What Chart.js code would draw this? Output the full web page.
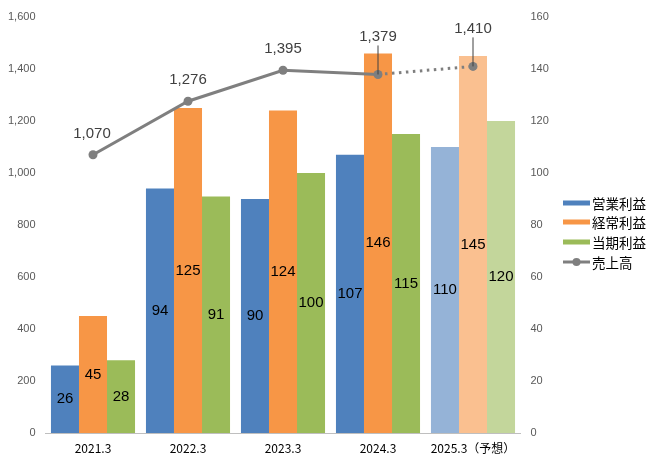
<!DOCTYPE html>
<html><head><meta charset="utf-8">
<script src="https://cdn.jsdelivr.net/npm/chart.js@4/dist/chart.umd.min.js"></script>
<style>html,body{margin:0;padding:0;background:#fff;}#wrap{width:659px;height:467px;}</style>
</head><body><div id="wrap"><canvas id="c" width="659" height="467"></canvas></div>
<script>
const categories = ['2021.3','2022.3','2023.3','2024.3','2025.3（予想）'];
const operatingProfit = [26, 94, 90, 107, 110];
const ordinaryProfit = [45, 125, 124, 146, 145];
const netProfit = [28, 91, 100, 115, 120];
const sales = [1070, 1276, 1395, 1379, 1410];
const seriesNames = ['営業利益','経常利益','当期利益','売上高'];
const leftTicks = [0,200,400,600,800,1000,1200,1400,1600];
const rightTicks = [0,20,40,60,80,100,120,140,160];

const blue = '#4F81BD', blueL = '#95B3D7';
const orange = '#F79646', orangeL = '#FAC090';
const green = '#9BBB59', greenL = '#C3D69B';
const gray = '#7F7F7F';
const fc = (c, l) => categories.map((_, i) => i === categories.length - 1 ? l : c);

const labelPlugin = {
  id: 'labels',
  afterDatasetsDraw(chart) {
    const ctx = chart.ctx;
    ctx.save();
    ctx.textAlign = 'center';
    ctx.textBaseline = 'middle';
    chart.data.datasets.forEach((ds, di) => {
      const meta = chart.getDatasetMeta(di);
      if (ds.type === 'bar') {
        ctx.font = '15px "Liberation Sans", Arial, sans-serif';
        ctx.fillStyle = '#000';
        meta.data.forEach((el, i) => {
          ctx.fillText(String(ds.data[i]), el.x, (el.y + el.base) / 2);
        });
      } else {
        ctx.font = '15px "Liberation Sans", Arial, sans-serif';
        ctx.fillStyle = '#404040';
        meta.data.forEach((el, i) => {
          const txt = ds.data[i].toLocaleString('en-US');
          if (i >= 3) {
            const ly = el.y - 38;
            ctx.fillText(txt, el.x, ly);
            ctx.strokeStyle = '#404040';
            ctx.lineWidth = 1;
            ctx.beginPath();
            ctx.moveTo(el.x, ly + 9);
            ctx.lineTo(el.x, el.y);
            ctx.stroke();
          } else {
            ctx.fillText(txt, el.x - (i === 0 ? 1 : 0), el.y - 21);
          }
        });
      }
    });
    ctx.restore();
  }
};

const legendPlugin = {
  id: 'customLegend',
  afterDraw(chart) {
    const ctx = chart.ctx;
    ctx.save();
    const cols = [blue, orange, green];
    const ys = [203, 222, 242, 262];
    ctx.font = '13.5px "Noto Sans CJK JP", sans-serif';
    ctx.textBaseline = 'middle';
    ctx.textAlign = 'left';
    ctx.fillStyle = '#000';
    for (let i = 0; i < 4; i++) {
      if (i < 3) {
        ctx.fillStyle = cols[i];
        ctx.fillRect(563, ys[i] - 2.5, 27, 5);
      } else {
        ctx.strokeStyle = gray;
        ctx.lineWidth = 3;
        ctx.beginPath(); ctx.moveTo(563, ys[i]); ctx.lineTo(590, ys[i]); ctx.stroke();
        ctx.fillStyle = gray;
        ctx.beginPath(); ctx.arc(576.5, ys[i], 4, 0, Math.PI * 2); ctx.fill();
      }
      ctx.fillStyle = '#000';
      ctx.fillText(seriesNames[i], 592, ys[i] + 0.5);
    }
    ctx.restore();
  }
};

new Chart(document.getElementById('c'), {
  data: {
    labels: categories,
    datasets: [
      { type: 'line', label: seriesNames[3], data: sales, yAxisID: 'y', order: 0,
        borderColor: gray, backgroundColor: gray, borderWidth: 3,
        pointRadius: 4.5, pointHoverRadius: 4.5, pointBackgroundColor: gray, pointBorderWidth: 0,
        tension: 0,
        segment: { borderDash: c => c.p1DataIndex === categories.length - 1 ? [2.5, 4.5] : undefined } },
      { type: 'bar', label: seriesNames[0], data: operatingProfit, yAxisID: 'y1', order: 1,
        backgroundColor: fc(blue, blueL), categoryPercentage: 0.885, barPercentage: 1 },
      { type: 'bar', label: seriesNames[1], data: ordinaryProfit, yAxisID: 'y1', order: 1,
        backgroundColor: fc(orange, orangeL), categoryPercentage: 0.885, barPercentage: 1 },
      { type: 'bar', label: seriesNames[2], data: netProfit, yAxisID: 'y1', order: 1,
        backgroundColor: fc(green, greenL), categoryPercentage: 0.885, barPercentage: 1 }
    ]
  },
  options: {
    responsive: false,
    animation: false,
    events: [],
    layout: { padding: { top: 17, right: 99, left: 0, bottom: 0 } },
    plugins: { legend: { display: false }, tooltip: { enabled: false } },
    scales: {
      x: {
        grid: { display: false, drawTicks: false },
        border: { display: true, color: '#BFBFBF', width: 1 },
        ticks: { color: '#000', font: { size: 12, family: '"Noto Sans CJK JP", sans-serif' }, padding: 8, maxRotation: 0 },
        afterFit(s) { s.height = 34; }
      },
      y: {
        position: 'left', min: 0, max: 1600,
        afterBuildTicks(s) { s.ticks = leftTicks.map(v => ({ value: v })); },
        grid: { display: false, drawTicks: false },
        border: { display: false },
        ticks: { color: '#595959', font: { size: 11, family: '"Liberation Sans", Arial, sans-serif' }, padding: 10,
                 callback: v => v.toLocaleString('en-US') },
        afterFit(s) { s.width = 45.5; }
      },
      y1: {
        position: 'right', min: 0, max: 160,
        afterBuildTicks(s) { s.ticks = rightTicks.map(v => ({ value: v })); },
        grid: { display: false, drawTicks: false },
        border: { display: false },
        ticks: { color: '#595959', font: { size: 11, family: '"Liberation Sans", Arial, sans-serif' }, padding: 10 },
        afterFit(s) { s.width = 39.5; }
      }
    }
  },
  plugins: [labelPlugin, legendPlugin]
});
</script></body></html>
